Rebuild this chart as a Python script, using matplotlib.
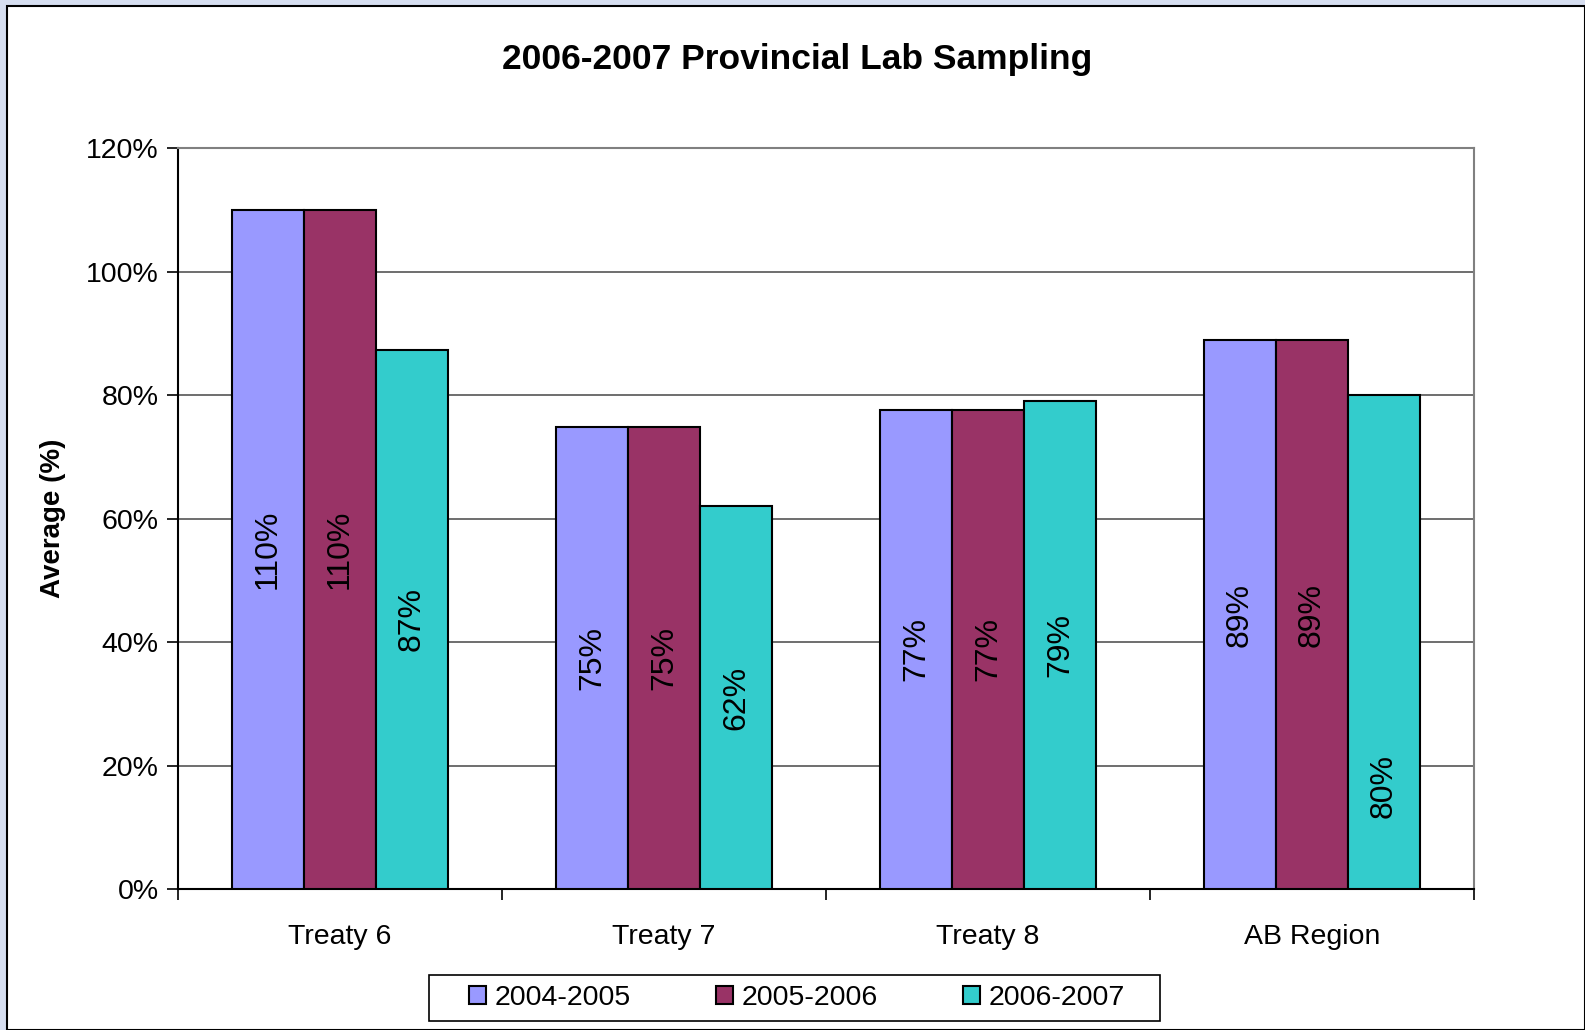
import matplotlib.pyplot as plt
import matplotlib.patches as mpatches
import numpy as np

plt.rcParams['font.family'] = ['Liberation Sans', 'DejaVu Sans']

categories = ['Treaty 6', 'Treaty 7', 'Treaty 8', 'AB Region']
series = ['2004-2005', '2005-2006', '2006-2007']
v2004 = [110.0, 74.8, 77.6, 88.9]
v2005 = [110.0, 74.8, 77.6, 88.9]
v2006 = [87.3, 62.0, 79.1, 80.0]
labels2004 = ['110%', '75%', '77%', '89%']
labels2005 = ['110%', '75%', '77%', '89%']
labels2006 = ['87%', '62%', '79%', '80%']
colors = ['#9999FF', '#993366', '#33CCCC']

W, H = 1585, 1030
fig = plt.figure(figsize=(W / 100, H / 100), dpi=100)
fig.patch.set_facecolor('#D6DEF0')
# white chart panel with black border
fig.patches.append(mpatches.Rectangle((7 / W, 0.5 / H), (W - 7.5) / W, (H - 6.5) / H,
                                      transform=fig.transFigure, facecolor='white',
                                      edgecolor='black', linewidth=1.5, zorder=-5))

ax = fig.add_axes([178 / W, 1 - 889 / H, (1474 - 178) / W, (889 - 148) / H])
ax.set_zorder(2)
ax.set_facecolor('white')

x = np.arange(len(categories))
bw = 1 / 4.5
all_vals = [v2004, v2005, v2006]
all_labels = [labels2004, labels2005, labels2006]
handles = []
for i, (vals, labs) in enumerate(zip(all_vals, all_labels)):
    pos = x + (i - 1) * bw
    b = ax.bar(pos, vals, width=bw, color=colors[i], edgecolor='black', linewidth=1.5,
               zorder=3, label=series[i])
    handles.append(b)
    for p, v, lab in zip(pos, vals, labs):
        ypos = v / 2
        if lab == '80%' and i == 2:
            ypos = 16.7
        ax.text(p, ypos, lab, rotation=90, ha='center', va='center', fontsize=23, zorder=4)

ax.set_xlim(-0.5, len(categories) - 0.5)
ax.set_ylim(0, 120)
ax.set_yticks(np.arange(0, 121, 20))
ax.set_yticklabels([f'{t}%' for t in range(0, 121, 20)], fontsize=20.5)
ax.yaxis.grid(True, color='#555555', linewidth=1.2, zorder=0)
ax.set_axisbelow(True)

# category ticks on boundaries, labels centered
ax.set_xticks(np.arange(-0.5, len(categories), 1))
ax.set_xticklabels([])
ax.set_xticks(x, minor=True)
ax.set_xticklabels(categories, minor=True, fontsize=20.5)
ax.tick_params(axis='x', which='minor', length=0, pad=25)
ax.tick_params(axis='x', which='major', length=8, width=1.2, direction='out')
ax.tick_params(axis='y', length=8, width=1.2, direction='out', pad=6)

for s in ['left', 'bottom']:
    ax.spines[s].set_color('black')
    ax.spines[s].set_linewidth(1.5)
for s in ['top', 'right']:
    ax.spines[s].set_color('#808080')
    ax.spines[s].set_linewidth(1.5)

ax.set_ylabel('Average (%)', fontsize=20, fontweight='bold', labelpad=14)
fig.text(797 / W, 1 - 60 / H, '2006-2007 Provincial Lab Sampling', ha='center', va='center',
         fontsize=25.5, fontweight='bold')

# legend box drawn separately so padding can be wider than tall
fig.patches.append(mpatches.Rectangle((429 / W, 1 - 1021 / H), (1160 - 429) / W, 46 / H,
                                      transform=fig.transFigure, facecolor='white',
                                      edgecolor='black', linewidth=1.2, zorder=1))
leg = fig.legend(handles=handles, loc='center', bbox_to_anchor=(797 / W, 1 - 998 / H),
                 ncol=3, fontsize=20.5, frameon=False,
                 handlelength=0.6, handleheight=0.6, handletextpad=0.3, columnspacing=3.0,
                 borderpad=0.2)
leg.set_zorder(3)

fig.savefig('out.png', dpi=100, facecolor=fig.get_facecolor())
